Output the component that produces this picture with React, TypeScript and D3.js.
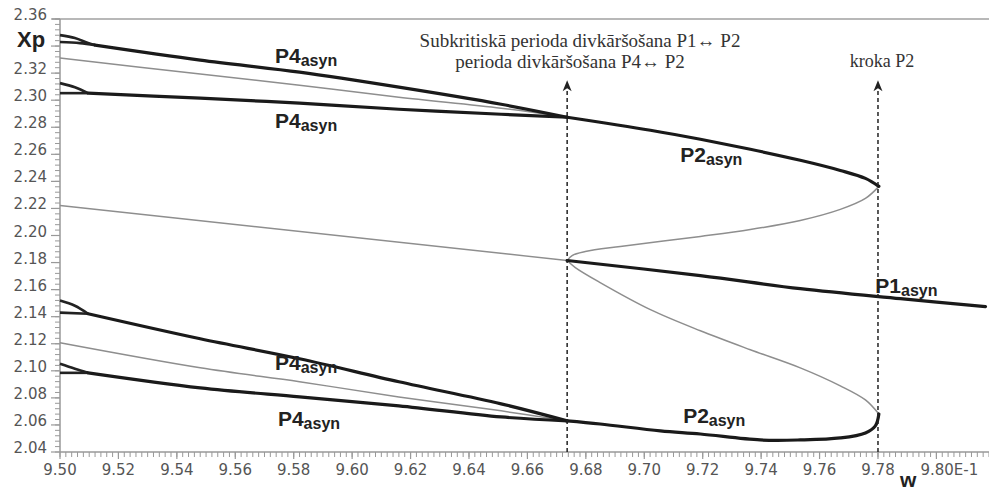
import React from "react";
import * as d3 from "d3";

const W = 989;
const H = 490;

type Pt = [number, number];

// axis ticks
const xTicks = [9.5, 9.52, 9.54, 9.56, 9.58, 9.6, 9.62, 9.64, 9.66, 9.68, 9.7, 9.72, 9.74, 9.76, 9.78, 9.8];
const xTickLabels = ["9.50", "9.52", "9.54", "9.56", "9.58", "9.60", "9.62", "9.64", "9.66", "9.68", "9.70", "9.72", "9.74", "9.76", "9.78", "9.80E-1"];
const yTicks = [2.04, 2.06, 2.08, 2.1, 2.12, 2.14, 2.16, 2.18, 2.2, 2.22, 2.24, 2.26, 2.28, 2.3, 2.32, 2.34, 2.36];
const yTickLabels = ["2.04", "2.06", "2.08", "2.10", "2.12", "2.14", "2.16", "2.18", "2.20", "2.22", "2.24", "2.26", "2.28", "2.30", "2.32", "", "2.36"];

// bifurcation points (w)
const bifurcations = [9.6736, 9.78];

// stable branches (thick)
const p4UpTop: Pt[] = [[9.512, 2.3407], [9.548, 2.3296], [9.582, 2.3207], [9.616, 2.3096], [9.651, 2.297], [9.6736, 2.2874]];
const p4UpBottom: Pt[] = [[9.5096, 2.3052], [9.548, 2.3015], [9.582, 2.2978], [9.616, 2.2933], [9.651, 2.2896], [9.6736, 2.2874]];
const p4LowTop: Pt[] = [[9.5096, 2.1422], [9.548, 2.1237], [9.582, 2.1089], [9.616, 2.0919], [9.651, 2.0756], [9.6736, 2.063]];
const p4LowBottom: Pt[] = [[9.5096, 2.0985], [9.548, 2.0874], [9.582, 2.0807], [9.616, 2.0741], [9.651, 2.0659], [9.6736, 2.063]];
const p2UpStable: Pt[] = [[9.6736, 2.2874], [9.7021, 2.2778], [9.7192, 2.2711], [9.7363, 2.2637], [9.7534, 2.2556], [9.7671, 2.2481], [9.7757, 2.2422], [9.7803, 2.2363]];
const p2LowStable: Pt[] = [[9.6736, 2.063], [9.6849, 2.0607], [9.7055, 2.0556], [9.7192, 2.0533], [9.7397, 2.0489], [9.7534, 2.0489], [9.7671, 2.0504], [9.7757, 2.0541], [9.7791, 2.0593], [9.7803, 2.0681]];
const p1Stable: Pt[] = [[9.6736, 2.1815], [9.7192, 2.1704], [9.7534, 2.1607], [9.7877, 2.1533], [9.8168, 2.1474]];

// small splitting wedges at the left edge
const wedges: Pt[][] = [
  [[9.5, 2.3481], [9.5051, 2.3459], [9.5096, 2.3422], [9.512, 2.3407]],
  [[9.5, 2.343], [9.5068, 2.3422], [9.512, 2.3407]],
  [[9.5, 2.3126], [9.5051, 2.3096], [9.5096, 2.3052]],
  [[9.5, 2.3052], [9.5096, 2.3052]],
  [[9.5, 2.1519], [9.5051, 2.1481], [9.5096, 2.1422]],
  [[9.5, 2.143], [9.5096, 2.1422]],
  [[9.5, 2.1052], [9.5051, 2.1015], [9.5096, 2.0985]],
  [[9.5, 2.0985], [9.5096, 2.0985]],
];

// unstable branches (thin grey)
const p2UpUnstable: Pt[] = [[9.5, 2.3311], [9.548, 2.3193], [9.582, 2.3111], [9.616, 2.3022], [9.651, 2.2941], [9.6736, 2.2874]];
const p2LowUnstableLeft: Pt[] = [[9.5, 2.1207], [9.548, 2.1022], [9.582, 2.0919], [9.616, 2.0807], [9.651, 2.0704], [9.6736, 2.063]];
const p1Unstable: Pt[] = [[9.5, 2.2222], [9.6736, 2.1815]];
const p2RightUpper: Pt[] = [[9.6736, 2.1815], [9.6753, 2.1852], [9.6798, 2.1881], [9.6918, 2.1919], [9.7192, 2.1993], [9.7363, 2.2044], [9.7534, 2.2111], [9.7671, 2.2193], [9.7757, 2.2274], [9.7803, 2.2363]];
const p2RightLower: Pt[] = [[9.6736, 2.1815], [9.6764, 2.1763], [9.6849, 2.1652], [9.7021, 2.1452], [9.7192, 2.1296], [9.7363, 2.1156], [9.7534, 2.1022], [9.7671, 2.0889], [9.7757, 2.0785], [9.7803, 2.0681]];

// curve labels: [main, sub, w, xp baseline]
const curveLabels: [string, string, number, number][] = [
  ["P4", "asyn", 9.5736, 2.3274],
  ["P4", "asyn", 9.5736, 2.2794],
  ["P2", "asyn", 9.7123, 2.2541],
  ["P1", "asyn", 9.7791, 2.1578],
  ["P4", "asyn", 9.5736, 2.1007],
  ["P4", "asyn", 9.5746, 2.0593],
  ["P2", "asyn", 9.7133, 2.0615],
];

const annotation1 = ["Subkritiskā perioda divkāršošana P1↔ P2", "perioda divkāršošana P4↔ P2"];
const annotation2 = "kroka P2";

export default function App() {
  const x = d3.scaleLinear().domain([9.5, 9.818]).range([60, 989]);
  const y = d3.scaleLinear().domain([2.04, 2.36]).range([452, 19]);
  const line = d3
    .line<Pt>()
    .x((d) => x(d[0]))
    .y((d) => y(d[1]))
    .curve(d3.curveCatmullRom.alpha(0.5));

  const thick = [p4UpTop, p4UpBottom, p4LowTop, p4LowBottom, p2UpStable, p2LowStable, p1Stable];
  const thin = [p2UpUnstable, p2LowUnstableLeft, p1Unstable, p2RightUpper, p2RightLower];

  const xMinor = d3.range(9.5, 9.8181, 0.002);
  const yMinor = d3.range(2.04, 2.3601, 0.004);
  const arrowTop = y(2.3148);

  return (
    <div style={{ position: "absolute", left: 0, top: 0 }}>
      <style>{`body{margin:0;background:#fff}`}</style>
      <svg width={W} height={H} style={{ display: "block", background: "#fff" }}>
        {/* frame */}
        <line x1={52} x2={W} y1={y(2.36)} y2={y(2.36)} stroke="#b8b8b8" strokeWidth={2} />
        <line x1={60} x2={60} y1={y(2.36)} y2={y(2.04)} stroke="#999" strokeWidth={1.5} />
        <line x1={60} x2={W} y1={y(2.04)} y2={y(2.04)} stroke="#999" strokeWidth={1.5} />

        {/* minor ticks */}
        {yMinor.map((v, i) => (
          <line key={"ym" + i} x1={55} x2={60} y1={y(v)} y2={y(v)} stroke="#999" strokeWidth={1} />
        ))}
        {xMinor.map((v, i) => (
          <line key={"xm" + i} x1={x(v)} x2={x(v)} y1={452} y2={457} stroke="#999" strokeWidth={1} />
        ))}
        {yTicks.map((v, i) => (
          <line key={"yt" + i} x1={51} x2={60} y1={y(v)} y2={y(v)} stroke="#999" strokeWidth={1.2} />
        ))}
        {xTicks.map((v, i) => (
          <line key={"xt" + i} x1={x(v)} x2={x(v)} y1={452} y2={459} stroke="#999" strokeWidth={1.2} />
        ))}

        {/* tick labels */}
        <g fontFamily="DejaVu Sans, sans-serif" fontSize={15} fill="#555">
          {yTicks.map((v, i) => (
            <text key={"yl" + i} x={47} y={y(v) + 1} textAnchor="end">
              {yTickLabels[i]}
            </text>
          ))}
          {xTicks.map((v, i) => (
            <text
              key={"xl" + i}
              x={i === xTicks.length - 1 ? x(v) - 16 : x(v)}
              y={475}
              textAnchor={i === xTicks.length - 1 ? "start" : "middle"}
            >
              {xTickLabels[i]}
            </text>
          ))}
        </g>

        {/* axis titles */}
        <text x={17} y={47} fontFamily="Liberation Sans, Arial, sans-serif" fontWeight={700} fontSize={22} fill="#222">
          Xp
        </text>
        <text x={900} y={487} fontFamily="Liberation Sans, Arial, sans-serif" fontWeight={700} fontSize={21} fill="#222">
          w
        </text>

        {/* unstable branches */}
        {thin.map((d, i) => (
          <path key={"thin" + i} d={line(d) || ""} fill="none" stroke="#8e8e8e" strokeWidth={1.5} />
        ))}

        {/* wedges */}
        {wedges.map((d, i) => (
          <path key={"w" + i} d={line(d) || ""} fill="none" stroke="#222" strokeWidth={2.6} />
        ))}

        {/* stable branches */}
        {thick.map((d, i) => (
          <path key={"thick" + i} d={line(d) || ""} fill="none" stroke="#1a1a1a" strokeWidth={3.2} strokeLinecap="round" />
        ))}

        {/* bifurcation markers */}
        {bifurcations.map((b, i) => (
          <g key={"b" + i}>
            <line x1={x(b)} x2={x(b)} y1={452} y2={arrowTop + 6} stroke="#222" strokeWidth={1.5} strokeDasharray="4,3" />
            <path
              d={`M${x(b)},${arrowTop} L${x(b) - 4.5},${arrowTop + 11} L${x(b)},${arrowTop + 8} L${x(b) + 4.5},${arrowTop + 11} Z`}
              fill="#222"
            />
          </g>
        ))}

        {/* annotations */}
        <g fontFamily="Liberation Serif, Times New Roman, serif" fill="#333" textAnchor="middle">
          <text x={580} y={47} fontSize={19}>{annotation1[0]}</text>
          <text x={570} y={68} fontSize={19}>{annotation1[1]}</text>
          <text x={882} y={67} fontSize={18}>{annotation2}</text>
        </g>

        {/* curve labels */}
        <g fontFamily="Liberation Sans, Arial, sans-serif" fontWeight={700} fill="#222">
          {curveLabels.map(([m, s, w, v], i) => (
            <text key={"cl" + i} x={x(w)} y={y(v)} fontSize={21}>
              {m}
              <tspan fontSize={16} dy={3}>
                {s}
              </tspan>
            </text>
          ))}
        </g>
      </svg>
    </div>
  );
}
